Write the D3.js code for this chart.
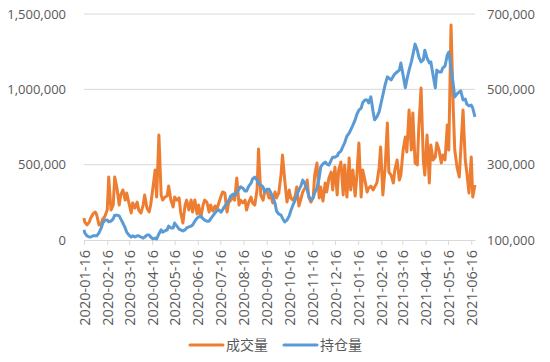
<!DOCTYPE html>
<html>
<head>
<meta charset="utf-8">
<script src="https://cdn.jsdelivr.net/npm/d3@7"></script>
<style>
  body { margin: 0; background: #fff; }
  text { font-family: "Open Sans", "Noto Sans", sans-serif; fill: #595959; }
</style>
</head>
<body>
<div id="chart"></div>
<script>
const width = 550
const height = 362
const margin = { top: 14, bottom: 122, left: 84, right: 75 }

// 日期 (x categories)
const dates = ["2020-01-16","2020-01-17","2020-01-20","2020-01-23","2020-01-25","2020-01-28","2020-01-31","2020-02-02","2020-02-05","2020-02-08","2020-02-10","2020-02-13","2020-02-16","2020-02-18","2020-02-21","2020-02-24","2020-02-26","2020-02-29","2020-03-03","2020-03-05","2020-03-08","2020-03-11","2020-03-13","2020-03-16","2020-03-19","2020-03-21","2020-03-24","2020-03-27","2020-03-29","2020-04-01","2020-04-04","2020-04-06","2020-04-09","2020-04-12","2020-04-14","2020-04-17","2020-04-20","2020-04-22","2020-04-25","2020-04-28","2020-04-30","2020-05-03","2020-05-06","2020-05-08","2020-05-11","2020-05-14","2020-05-16","2020-05-19","2020-05-22","2020-05-24","2020-05-27","2020-05-30","2020-06-01","2020-06-04","2020-06-07","2020-06-09","2020-06-12","2020-06-15","2020-06-17","2020-06-20","2020-06-23","2020-06-25","2020-06-28","2020-07-01","2020-07-03","2020-07-06","2020-07-09","2020-07-11","2020-07-14","2020-07-17","2020-07-19","2020-07-22","2020-07-25","2020-07-27","2020-07-30","2020-08-02","2020-08-04","2020-08-07","2020-08-10","2020-08-12","2020-08-15","2020-08-18","2020-08-20","2020-08-23","2020-08-26","2020-08-28","2020-08-31","2020-09-03","2020-09-05","2020-09-08","2020-09-11","2020-09-13","2020-09-16","2020-09-19","2020-09-21","2020-09-24","2020-09-27","2020-09-29","2020-10-02","2020-10-05","2020-10-07","2020-10-10","2020-10-13","2020-10-16","2020-10-18","2020-10-21","2020-10-24","2020-10-26","2020-10-29","2020-11-01","2020-11-03","2020-11-06","2020-11-09","2020-11-11","2020-11-14","2020-11-17","2020-11-19","2020-11-22","2020-11-25","2020-11-27","2020-11-30","2020-12-03","2020-12-05","2020-12-08","2020-12-11","2020-12-13","2020-12-16","2020-12-19","2020-12-21","2020-12-24","2020-12-27","2020-12-29","2021-01-01","2021-01-04","2021-01-06","2021-01-09","2021-01-12","2021-01-14","2021-01-17","2021-01-20","2021-01-22","2021-01-25","2021-01-28","2021-01-30","2021-02-02","2021-02-05","2021-02-07","2021-02-10","2021-02-13","2021-02-15","2021-02-18","2021-02-21","2021-02-24","2021-02-26","2021-03-01","2021-03-04","2021-03-06","2021-03-09","2021-03-12","2021-03-14","2021-03-17","2021-03-20","2021-03-22","2021-03-25","2021-03-28","2021-03-30","2021-04-02","2021-04-05","2021-04-07","2021-04-10","2021-04-13","2021-04-15","2021-04-18","2021-04-21","2021-04-23","2021-04-26","2021-04-29","2021-05-01","2021-05-04","2021-05-07","2021-05-09","2021-05-12","2021-05-15","2021-05-17","2021-05-20","2021-05-23","2021-05-25","2021-05-28","2021-05-31","2021-06-02","2021-06-05","2021-06-08","2021-06-10","2021-06-13","2021-06-16","2021-06-18","2021-06-21"]

// 成交量, thousands (left axis)
const volume = [146,119,100,119,146,173,186,166,100,106,
  139,159,199,418,199,232,418,345,232,299,
  332,265,312,246,179,246,212,252,199,179,
  232,299,212,186,232,345,465,285,697,299,
  265,285,292,358,265,219,285,265,279,186,
  113,232,265,199,265,186,265,173,232,153,
  232,265,252,186,232,192,226,199,246,292,
  319,312,186,246,265,285,265,411,232,265,
  246,265,199,252,285,246,232,332,604,299,
  265,312,332,279,299,246,319,279,312,431,
  564,398,252,332,279,265,292,352,226,279,
  319,345,398,285,252,285,431,511,279,352,
  259,378,319,411,451,332,484,299,465,518,
  299,498,285,544,332,465,292,411,644,285,
  465,398,319,345,358,332,352,378,478,617,
  299,478,777,451,431,378,465,531,398,431,
  597,684,584,863,597,843,511,498,750,1009,
  531,431,697,378,631,531,551,644,597,511,
  564,531,763,597,1427,863,597,484,418,597,
  863,531,451,312,551,285,365]

// 持仓量, thousands (right axis)
const openInterest = [127,119,111,108,108,111,111,111,119,132,
  145,153,153,148,150,156,166,166,164,156,
  145,132,121,113,108,111,108,111,111,108,
  105,108,113,113,108,103,105,103,116,127,
  121,124,127,137,132,132,145,137,129,127,
  124,127,132,135,137,140,150,158,161,164,
  156,153,150,150,156,164,172,177,180,174,
  180,190,198,204,217,222,217,227,235,241,
  238,230,230,243,251,262,267,259,249,246,
  241,227,235,235,227,214,198,177,169,166,
  158,148,153,164,177,193,206,219,233,246,
  259,249,233,217,206,212,225,238,265,294,
  302,307,302,299,312,320,320,323,331,336,
  350,358,376,384,392,405,419,432,445,450,
  464,472,472,464,480,440,419,427,440,458,
  485,512,533,530,525,535,541,546,551,570,
  538,504,525,551,573,591,620,604,586,573,
  578,604,583,570,573,538,504,551,546,546,
  557,562,591,599,557,512,480,488,493,496,
  472,474,461,456,458,450,427]

const tickLabels = ["2020-01-16","2020-02-16","2020-03-16","2020-04-16","2020-05-16","2020-06-16","2020-07-16","2020-08-16","2020-09-16","2020-10-16","2020-11-16","2020-12-16","2021-01-16","2021-02-16","2021-03-16","2021-04-16","2021-05-16","2021-06-16"]
const leftTicks = [0, 500000, 1000000, 1500000]
const rightTicks = [100000, 300000, 500000, 700000]

const seriesNames = ["成交量", "持仓量"]
const colors = ["#ED7D31", "#5B9BD5"]

const parse = d3.timeParse("%Y-%m-%d")
const rows = dates.map((d, i) => ({ date: parse(d), vol: volume[i] * 1000, oi: openInterest[i] * 1000 }))

const svg = d3.select("div#chart").append("svg").attr("width", width).attr("height", height)

const x = d3.scaleTime()
    .domain([parse(dates[0]), parse(dates[dates.length - 1])])
    .range([margin.left, width - margin.right])
const yL = d3.scaleLinear().domain([0, 1500000]).range([height - margin.bottom, margin.top])
const yR = d3.scaleLinear().domain([100000, 700000]).range([height - margin.bottom, margin.top])

// gridlines
svg.append("g").selectAll("line").data(leftTicks.slice(1)).join("line")
    .attr("x1", margin.left).attr("x2", width - margin.right)
    .attr("y1", d => yL(d)).attr("y2", d => yL(d))
    .attr("stroke", "#d9d9d9").attr("stroke-width", 1)

// left axis
const fmt = d3.format(",")
const yAxisL = d3.axisLeft(yL).tickValues(leftTicks).tickFormat(fmt).tickSize(0).tickPadding(18)
svg.append("g").attr("transform", `translate(${margin.left},0)`).call(yAxisL)
    .call(g => g.select(".domain").remove())
    .selectAll("text").style("font-size", "13px").style("fill", "#595959")

// right axis
const yAxisR = d3.axisRight(yR).tickValues(rightTicks).tickFormat(fmt).tickSize(0).tickPadding(12)
svg.append("g").attr("transform", `translate(${width - margin.right},0)`).call(yAxisR)
    .call(g => g.select(".domain").remove())
    .selectAll("text").style("font-size", "13px").style("fill", "#595959")

// x axis
const xAxis = d3.axisBottom(x).tickValues(tickLabels.map(parse)).tickFormat(d3.timeFormat("%Y-%m-%d")).tickSize(5).tickSizeOuter(0)
const xg = svg.append("g").attr("transform", `translate(0,${height - margin.bottom})`).call(xAxis)
xg.select(".domain").attr("stroke", "#d9d9d9")
xg.selectAll(".tick line").attr("stroke", "#d9d9d9")
xg.selectAll("text")
    .style("font-size", "14.5px").style("fill", "#595959")
    .attr("text-anchor", "end")
    .attr("transform", "rotate(-90)")
    .attr("x", -10).attr("y", 0).attr("dy", "0.35em")

// lines
const lineVol = d3.line().x(d => x(d.date)).y(d => yL(d.vol))
const lineOI = d3.line().x(d => x(d.date)).y(d => yR(d.oi))

svg.append("path").datum(rows).attr("d", lineVol)
    .attr("fill", "none").attr("stroke", colors[0]).attr("stroke-width", 3).attr("stroke-linejoin", "round")
svg.append("path").datum(rows).attr("d", lineOI)
    .attr("fill", "none").attr("stroke", colors[1]).attr("stroke-width", 3).attr("stroke-linejoin", "round")

// legend
const legend = svg.append("g").attr("transform", "translate(190,345)")
const items = legend.selectAll("g").data(seriesNames).join("g")
    .attr("transform", (d, i) => `translate(${i * 94},0)`)
items.append("line").attr("x1", 0).attr("x2", 33).attr("y1", 0).attr("y2", 0)
    .attr("stroke", (d, i) => colors[i]).attr("stroke-width", 3).attr("stroke-linecap", "round")
items.append("text").attr("x", 36).attr("y", 0).attr("dy", "0.35em")
    .style("font-family", "'Noto Sans CJK SC', sans-serif").style("font-size", "14px")
    .text(d => d)
</script>
</body>
</html>
